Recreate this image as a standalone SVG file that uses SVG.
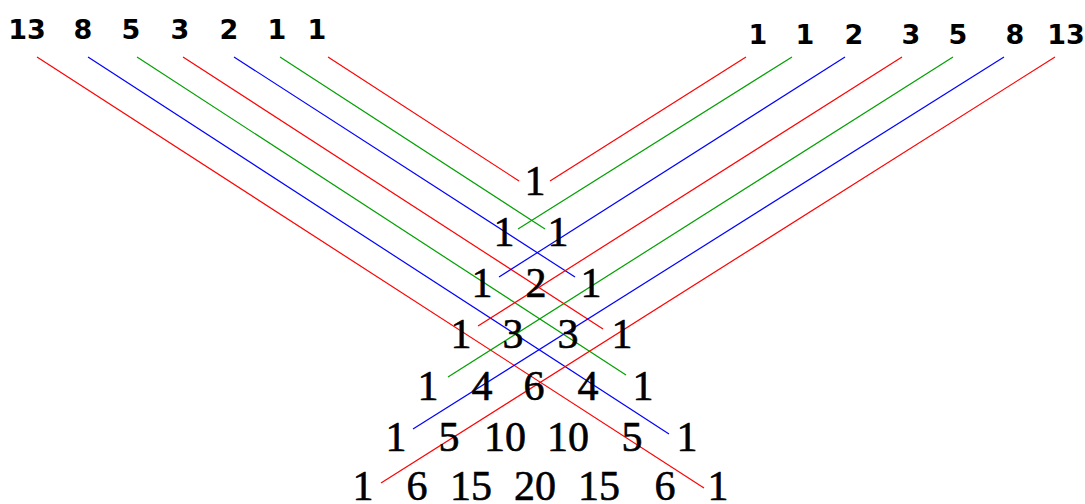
<svg xmlns="http://www.w3.org/2000/svg" width="1085" height="504" viewBox="0 0 1085 504">
<style>
.lbl{font-family:"DejaVu Sans",sans-serif;font-weight:bold;font-size:27px;fill:#000;text-anchor:middle}
.num{font-family:"Liberation Serif",serif;font-size:42px;fill:#000;stroke:#000;stroke-width:0.6;text-anchor:middle}
.r{stroke:#ff0000;stroke-width:1.2;fill:none}
.b{stroke:#0000ff;stroke-width:1.2;fill:none}
.g{stroke:#00a000;stroke-width:1.2;fill:none}
</style>
<rect width="1085" height="504" fill="#fff"/>
<g id="connectors">
<line class="r" x1="37" y1="57" x2="704" y2="488"/>
<line class="b" x1="88" y1="57" x2="669" y2="434"/>
<line class="g" x1="137" y1="57" x2="626" y2="375"/>
<line class="r" x1="183" y1="57" x2="603" y2="329"/>
<line class="b" x1="234" y1="57" x2="575" y2="277"/>
<line class="g" x1="280" y1="57" x2="545" y2="229"/>
<line class="r" x1="328" y1="57" x2="519" y2="181"/>
<line class="r" x1="746" y1="57" x2="550" y2="181"/>
<line class="g" x1="792" y1="57" x2="518" y2="229"/>
<line class="b" x1="845" y1="57" x2="499" y2="277"/>
<line class="r" x1="902" y1="57" x2="478" y2="326"/>
<line class="g" x1="953" y1="57" x2="448" y2="377"/>
<line class="b" x1="1004" y1="57" x2="413" y2="429"/>
<line class="r" x1="1055" y1="57" x2="381" y2="483"/>
</g>
<g id="left-labels">
<g id="lbl-l13"><text class="lbl" x="27" y="39">13</text></g>
<g id="lbl-l8"><text class="lbl" x="83" y="39">8</text></g>
<g id="lbl-l5"><text class="lbl" x="131" y="39">5</text></g>
<g id="lbl-l3"><text class="lbl" x="180" y="39">3</text></g>
<g id="lbl-l2"><text class="lbl" x="229" y="39">2</text></g>
<g id="lbl-l1a"><text class="lbl" x="277" y="39">1</text></g>
<g id="lbl-l1b"><text class="lbl" x="317" y="39">1</text></g>
</g>
<g id="right-labels">
<g id="lbl-r1a"><text class="lbl" x="758" y="44">1</text></g>
<g id="lbl-r1b"><text class="lbl" x="805" y="44">1</text></g>
<g id="lbl-r2"><text class="lbl" x="854" y="44">2</text></g>
<g id="lbl-r3"><text class="lbl" x="911" y="44">3</text></g>
<g id="lbl-r5"><text class="lbl" x="958" y="44">5</text></g>
<g id="lbl-r8"><text class="lbl" x="1015" y="44">8</text></g>
<g id="lbl-r13"><text class="lbl" x="1066" y="44">13</text></g>
</g>
<g id="triangle">
<g id="n0-0"><text class="num" x="535" y="195">1</text></g>
<g id="n1-0"><text class="num" x="504" y="246">1</text></g>
<g id="n1-1"><text class="num" x="558" y="246">1</text></g>
<g id="n2-0"><text class="num" x="482" y="297">1</text></g>
<g id="n2-1"><text class="num" x="536" y="297">2</text></g>
<g id="n2-2"><text class="num" x="591" y="297">1</text></g>
<g id="n3-0"><text class="num" x="461" y="348">1</text></g>
<g id="n3-1"><text class="num" x="513" y="348">3</text></g>
<g id="n3-2"><text class="num" x="568" y="348">3</text></g>
<g id="n3-3"><text class="num" x="622" y="348">1</text></g>
<g id="n4-0"><text class="num" x="428" y="400">1</text></g>
<g id="n4-1"><text class="num" x="482" y="400">4</text></g>
<g id="n4-2"><text class="num" x="534" y="400">6</text></g>
<g id="n4-3"><text class="num" x="588" y="400">4</text></g>
<g id="n4-4"><text class="num" x="643" y="400">1</text></g>
<g id="n5-0"><text class="num" x="396" y="451">1</text></g>
<g id="n5-1"><text class="num" x="449" y="451">5</text></g>
<g id="n5-2"><text class="num" x="505" y="451">10</text></g>
<g id="n5-3"><text class="num" x="568" y="451">10</text></g>
<g id="n5-4"><text class="num" x="632" y="451">5</text></g>
<g id="n5-5"><text class="num" x="687" y="451">1</text></g>
<g id="n6-0"><text class="num" x="363" y="500">1</text></g>
<g id="n6-1"><text class="num" x="417" y="500">6</text></g>
<g id="n6-2"><text class="num" x="471" y="500">15</text></g>
<g id="n6-3"><text class="num" x="535" y="500">20</text></g>
<g id="n6-4"><text class="num" x="599" y="500">15</text></g>
<g id="n6-5"><text class="num" x="665" y="500">6</text></g>
<g id="n6-6"><text class="num" x="718" y="500">1</text></g>
</g>
</svg>
